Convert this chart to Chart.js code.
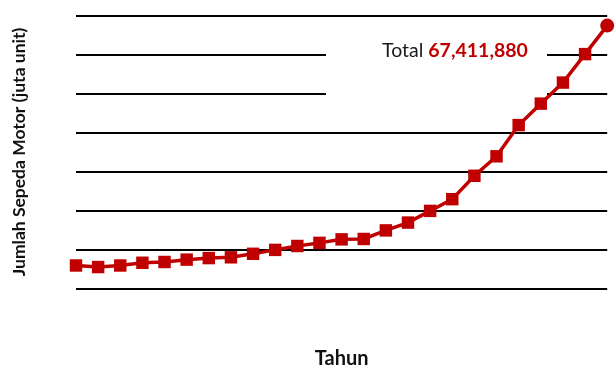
<!DOCTYPE html>
<html>
<head>
<meta charset="utf-8">
<script src="https://cdn.jsdelivr.net/npm/chart.js@4"></script>
<style>
  html, body { margin: 0; padding: 0; background: #fff; }
  #wrap { width: 616px; height: 365px; }
</style>
</head>
<body>
<div id="wrap"><canvas id="chart" width="616" height="365"></canvas></div>
<script>
// data (million units)
const years = [1987, 1988, 1989, 1990, 1991, 1992, 1993, 1994, 1995, 1996, 1997, 1998, 1999,
               2000, 2001, 2002, 2003, 2004, 2005, 2006, 2007, 2008, 2009, 2010, 2011];
const motorcycles = [5.9, 5.5, 5.9, 6.6, 6.8, 7.4, 7.8, 8.0, 8.9, 9.9, 10.9, 11.7, 12.6,
                     12.7, 14.9, 16.9, 19.9, 22.9, 28.9, 33.9, 41.9, 47.4, 52.8, 60.1, 67.41188];
const yTicks = [0, 10, 20, 30, 40, 50, 60, 70];
const totalLabel = "67,411,880";

const RED = "#C00000";

// white box + "Total" note, drawn under the line
const totalNote = {
    id: "totalNote",
    beforeDatasetsDraw(chart) {
        const ctx = chart.ctx;
        ctx.save();
        ctx.fillStyle = "#fff";
        ctx.fillRect(326, 36, 221, 74);
        ctx.textBaseline = "alphabetic";
        ctx.font = "19.5px Lato";
        ctx.fillStyle = "#1a1a1a";
        const first = "Total ";
        ctx.fillText(first, 382, 57);
        const w = ctx.measureText(first).width;
        ctx.font = "bold 19.5px Lato";
        ctx.fillStyle = RED;
        ctx.fillText(totalLabel, 382 + w, 57);
        ctx.restore();
    }
};

new Chart(document.getElementById("chart"), {
    type: "line",
    data: {
        labels: years,
        datasets: [{
            data: motorcycles,
            borderColor: RED,
            backgroundColor: RED,
            borderWidth: 3.5,
            pointStyle: motorcycles.map((v, i) => i === motorcycles.length - 1 ? "circle" : "rect"),
            pointRadius: motorcycles.map((v, i) => i === motorcycles.length - 1 ? 7 : 8.8),
            pointBorderWidth: 0,
            tension: 0,
            clip: false
        }]
    },
    options: {
        responsive: false,
        animation: false,
        layout: { padding: { top: 15.5, right: 5, left: 0, bottom: 0 } },
        plugins: { legend: { display: false }, tooltip: { enabled: false } },
        scales: {
            x: {
                ticks: { display: false },
                grid: { display: false, drawTicks: false },
                border: { display: false },
                title: {
                    display: true, text: "Tahun", color: "#111",
                    font: { family: "Lato", size: 20, weight: "bold" },
                    padding: { top: 0, bottom: -5.5 }
                },
                afterFit(scale) { scale.height = 76.5; }
            },
            y: {
                min: yTicks[0],
                max: yTicks[yTicks.length - 1],
                afterBuildTicks(scale) { scale.ticks = yTicks.map(v => ({ value: v })); },
                ticks: { display: false },
                grid: { color: "#000", lineWidth: 2, drawTicks: false },
                border: { display: false },
                title: {
                    display: true, text: "Jumlah Sepeda Motor (juta unit)", color: "#111",
                    font: { family: "Lato", size: 17.5, weight: "bold" },
                    padding: { top: 8.5, bottom: 0 }
                },
                afterFit(scale) { scale.width = 76; }
            }
        }
    },
    plugins: [totalNote]
});
</script>
</body>
</html>
